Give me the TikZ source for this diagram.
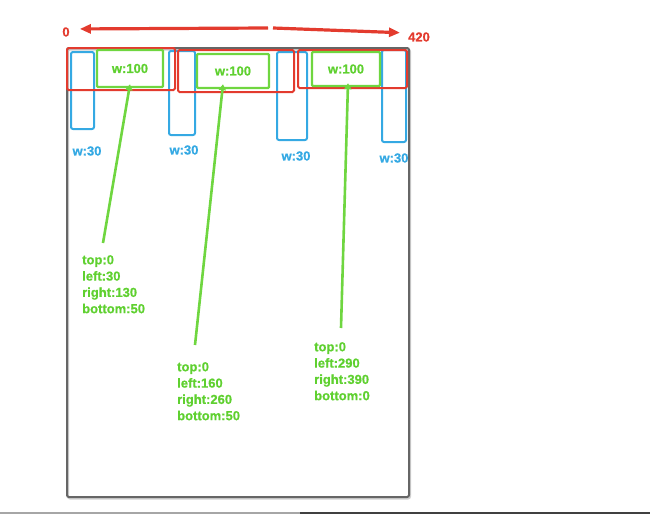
\documentclass[tikz,border=0pt]{standalone}
\usepackage{fontspec}
\setmainfont{Liberation Sans}
\newfontfamily\lblfont{Liberation Sans}[BoldFeatures={FakeBold=0.8}]
\usetikzlibrary{arrows.meta,calc}
\definecolor{redline}{HTML}{E33B2E}
\definecolor{blueline}{HTML}{35A9E3}
\definecolor{greenline}{HTML}{6FD640}
\definecolor{greentext}{HTML}{5FD030}
\definecolor{frameline}{HTML}{666666}
\begin{document}
\begin{tikzpicture}[x=1pt,y=-1pt,
	frame/.style={draw=frameline,line width=2pt,rounded corners=2pt},
	redbox/.style={draw=redline,line width=2pt,rounded corners=1.5pt},
	bluebox/.style={draw=blueline,line width=2pt,rounded corners=2pt},
	txt/.style={font=\fontsize{13}{16.3}\selectfont\lblfont\bfseries,inner sep=0pt},
	greenbox/.style={txt,draw=greenline,line width=2.4pt,rounded corners=1pt,text=greentext},
	garrow/.style={draw=greenline,line width=2.6pt,-{Triangle[length=6pt,width=7pt]}},
	rarrow/.style={draw=redline,line width=3.2pt,-{Triangle[length=11pt,width=9pt]}}]
\useasboundingbox (0,0) rectangle (650,514);
\draw [black!35,line width=1.5pt] (0,513) -- (300,513);
\draw [black!75,line width=1.5pt] (300,513) -- (650,513);
\draw [black!18,line width=2pt,rounded corners=2pt] (68,49.5) rectangle (410,498.5);
\draw [frame] (67,48) rectangle (409,497);
\draw [bluebox] (71,52) rectangle (94,129);
\draw [bluebox] (169,51) rectangle (195,135);
\draw [bluebox] (277,52) rectangle (307,140);
\draw [bluebox] (382,50) rectangle (406,142);
\draw [redbox] (67,48) rectangle (175,90);
\draw [redbox] (178,50) rectangle (294,92);
\draw [redbox] (298,50) rectangle (407,88);
\node [greenbox,minimum width=66pt,minimum height=37pt] (g1) at (130,68.5) {w:100};
\node [greenbox,minimum width=72pt,minimum height=34pt] (g2) at (233,71) {w:100};
\node [greenbox,minimum width=68pt,minimum height=34pt] (g3) at (346,69) {w:100};
\node [txt,text=blueline] (w1) at (87,151) {w:30};
\node [txt,text=blueline] (w2) at (184,150) {w:30};
\node [txt,text=blueline] (w3) at (296,156) {w:30};
\node [txt,text=blueline] (w4) at (394,158) {w:30};
\node [txt,text=redline] (zero) at (66,32) {0};
\node [txt,text=redline] (end) at (419,37) {420};
\coordinate (midl) at (268,28);
\coordinate (midr) at (273,28);
\draw [rarrow,shorten >=10pt] (midl) -- ($(zero.east)+(0,-3)$);
\draw [rarrow,shorten >=8pt] (midr) -- ($(end.west)+(0,-4)$);
\node [txt,text=greentext,align=left,anchor=north west] (t1) at (82,255)
	{top:0\\left:30\\right:130\\bottom:50};
\node [txt,text=greentext,align=left,anchor=north west] (t2) at (177,362)
	{top:0\\left:160\\right:260\\bottom:50};
\node [txt,text=greentext,align=left,anchor=north west] (t3) at (314,342)
	{top:0\\left:290\\right:390\\bottom:0};
\coordinate (a1) at (103,243);
\coordinate (a2) at (195,345);
\coordinate (a3) at (341,328);
\draw [garrow] (a1) -- ($(g1.south)+(0,-4)$);
\draw [garrow] (a2) -- ($(g2.south)+(-10,-5)$);
\draw [garrow] (a3) -- ($(g3.south)+(2,-4)$);
\end{tikzpicture}
\end{document}
